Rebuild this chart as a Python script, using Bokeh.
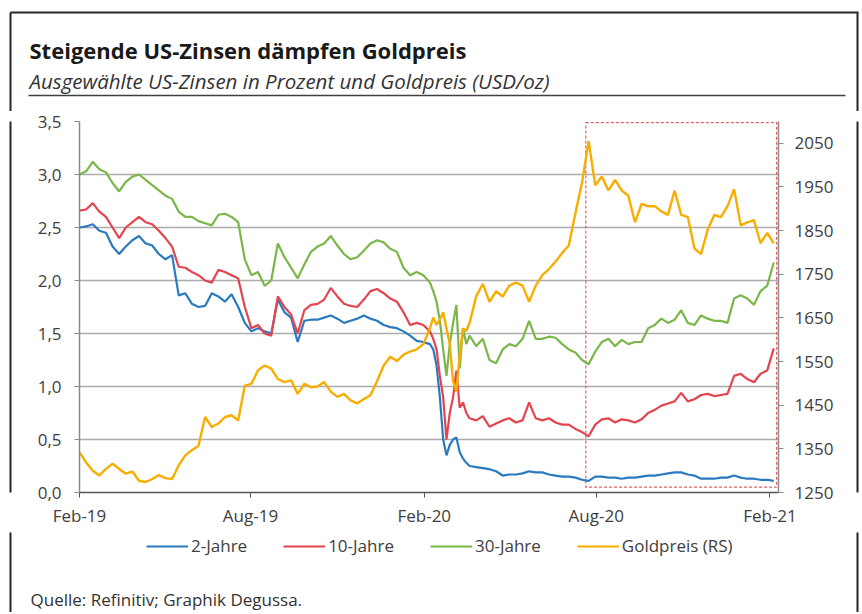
import pandas as pd
from bokeh.plotting import figure
from bokeh.layouts import column, row
from bokeh.models import (Range1d, LinearAxis, FixedTicker, DatetimeTickFormatter,
                          Legend, LegendItem)
from bokeh.core.properties import value
from bokeh.embed import file_html
from bokeh.resources import INLINE

# ---------------- data ----------------
title_text = "Steigende US-Zinsen dämpfen Goldpreis"
subtitle_text = "Ausgewählte US-Zinsen in Prozent und Goldpreis (USD/oz)"
source_text = "Quelle: Refinitiv; Graphik Degussa."

weekly = list(pd.date_range("2019-02-01", periods=106, freq="7D"))
extra = [weekly[i] + pd.Timedelta(hours=84) for i in range(53, 59)]
dates = sorted(weekly + extra)

y2 = [2.50, 2.51, 2.53, 2.47, 2.45, 2.32, 2.25, 2.32, 2.38, 2.42,
      2.35, 2.33, 2.25, 2.20, 2.24, 1.86, 1.88, 1.78, 1.75, 1.76,
      1.88, 1.85, 1.80, 1.87, 1.75, 1.60, 1.52, 1.55, 1.52, 1.50,
      1.82, 1.70, 1.65, 1.42, 1.62, 1.63, 1.63, 1.65, 1.67, 1.64,
      1.60, 1.62, 1.64, 1.67, 1.64, 1.62, 1.58, 1.56, 1.55, 1.52,
      1.48, 1.43, 1.42, 1.40,
      1.35, 1.20, 0.90, 0.50, 0.35, 0.45, 0.50, 0.52, 0.38, 0.32, 0.28,
      0.25, 0.24, 0.23, 0.22, 0.20, 0.16, 0.17, 0.17, 0.18, 0.20, 0.19,
      0.19, 0.17, 0.16, 0.15, 0.15, 0.14, 0.12, 0.11, 0.15, 0.15,
      0.14, 0.14, 0.13, 0.14, 0.14, 0.15, 0.16, 0.16, 0.17, 0.18,
      0.19, 0.19, 0.17, 0.16, 0.13, 0.13, 0.13, 0.14, 0.14, 0.16,
      0.14, 0.13, 0.13, 0.12, 0.12, 0.11]

y10 = [2.66, 2.67, 2.73, 2.65, 2.60, 2.50, 2.40, 2.50, 2.55, 2.60,
       2.55, 2.53, 2.47, 2.40, 2.32, 2.13, 2.12, 2.08, 2.05, 2.00,
       1.98, 2.10, 2.08, 2.05, 2.02, 1.75, 1.55, 1.58, 1.50, 1.48,
       1.85, 1.75, 1.68, 1.50, 1.72, 1.77, 1.78, 1.82, 1.93, 1.85,
       1.78, 1.76, 1.75, 1.82, 1.90, 1.92, 1.88, 1.83, 1.80, 1.70,
       1.58, 1.60, 1.58, 1.52,
       1.45, 1.35, 1.10, 0.90, 0.50, 0.75, 0.90, 1.15, 0.80, 0.85, 0.75,
       0.70, 0.68, 0.72, 0.62, 0.65, 0.68, 0.70, 0.66, 0.68, 0.85, 0.70,
       0.68, 0.70, 0.66, 0.64, 0.64, 0.60, 0.57, 0.53, 0.64, 0.69,
       0.70, 0.66, 0.69, 0.68, 0.66, 0.69, 0.75, 0.78, 0.82, 0.84,
       0.86, 0.94, 0.86, 0.88, 0.92, 0.93, 0.91, 0.92, 0.93, 1.10,
       1.12, 1.07, 1.04, 1.12, 1.15, 1.36]

y30 = [3.00, 3.03, 3.12, 3.05, 3.02, 2.92, 2.84, 2.93, 2.98, 3.00,
       2.95, 2.90, 2.85, 2.80, 2.77, 2.65, 2.60, 2.60, 2.56, 2.54,
       2.52, 2.62, 2.63, 2.60, 2.55, 2.20, 2.05, 2.08, 1.95, 2.00,
       2.35, 2.22, 2.12, 2.02, 2.15, 2.27, 2.32, 2.35, 2.42, 2.33,
       2.25, 2.20, 2.22, 2.28, 2.35, 2.38, 2.36, 2.30, 2.27, 2.12,
       2.05, 2.08, 2.05, 1.98,
       1.90, 1.80, 1.62, 1.35, 1.10, 1.40, 1.60, 1.77, 1.17, 1.55, 1.40,
       1.48, 1.38, 1.45, 1.25, 1.22, 1.35, 1.40, 1.38, 1.45, 1.62, 1.45,
       1.45, 1.47, 1.46, 1.40, 1.35, 1.32, 1.25, 1.21, 1.33, 1.42,
       1.45, 1.38, 1.44, 1.40, 1.42, 1.42, 1.55, 1.58, 1.64, 1.60,
       1.63, 1.72, 1.60, 1.58, 1.67, 1.64, 1.62, 1.62, 1.60, 1.83,
       1.86, 1.83, 1.77, 1.90, 1.95, 2.17]

gold = [1342, 1319, 1300, 1289, 1304, 1316, 1304, 1293, 1298, 1277,
        1274, 1281, 1290, 1283, 1281, 1312, 1335, 1347, 1357, 1423,
        1400, 1408, 1423, 1427, 1415, 1495, 1499, 1530, 1541, 1534,
        1510, 1503, 1507, 1476, 1499, 1491, 1493, 1503, 1481, 1469,
        1476, 1461, 1454, 1464, 1473, 1505, 1541, 1561, 1551, 1566,
        1573, 1578, 1590, 1626,
        1651, 1634, 1646, 1663, 1626, 1590, 1505, 1481, 1566, 1626, 1620,
        1639, 1700, 1728, 1687, 1711, 1699, 1724, 1731, 1724, 1687, 1724,
        1748, 1762, 1779, 1799, 1816, 1890, 1960, 2055, 1954, 1974,
        1942, 1966, 1942, 1930, 1869, 1911, 1906, 1906, 1894, 1886,
        1942, 1886, 1881, 1809, 1796, 1852, 1886, 1881, 1906, 1945,
        1862, 1869, 1874, 1821, 1845, 1821]

series_names = ["2-Jahre", "10-Jahre", "30-Jahre", "Goldpreis (RS)"]
series_colors = ["#2a7abf", "#e4444e", "#7ab648", "#f8ae00"]

left_ticks = [0.0, 0.5, 1.0, 1.5, 2.0, 2.5, 3.0, 3.5]
left_tick_labels = ["0,0", "0,5", "1,0", "1,5", "2,0", "2,5", "3,0", "3,5"]
right_ticks = [1250, 1350, 1450, 1550, 1650, 1750, 1850, 1950, 2050]
x_tick_dates = ["2019-02-01", "2019-08-01", "2020-02-01", "2020-08-01", "2021-02-01"]

x_start, x_end = "2019-02-01", "2021-02-10"
hl_start, hl_end = "2020-07-21", "2021-02-08"
hl_bottom, hl_top = 0.05, 3.49

FONT = "Open Sans"
TXT = "#404040"
FRAME = "#262626"

W = 860
HEAD_H, MAIN_H, FOOT_H = 111, 421, 80
STRIP_L, STRIP_R = 12, 14


def blank(width, height, xr, yr):
    f = figure(width=width, height=height, x_range=Range1d(*xr), y_range=Range1d(*yr),
               output_backend="svg", toolbar_location=None, min_border=0,
               x_axis_location=None, y_axis_location=None)
    f.grid.visible = False
    f.outline_line_color = None
    f.background_fill_color = "white"
    f.border_fill_color = "white"
    return f


# ---------------- header ----------------
head = blank(W, HEAD_H, (0, W), (HEAD_H, 0))
head.segment(x0=[10, 10, 857], y0=[12, 12, 12], x1=[858, 10, 857], y1=[12, HEAD_H + 5, HEAD_H + 5],
             line_color=FRAME, line_width=2)
head.text(x=[29], y=[49], text=[title_text], text_font=value(FONT), text_font_size="22px",
          text_font_style="bold", text_color="#1a1a1a", text_baseline="alphabetic")
head.text(x=[29], y=[80], text=[subtitle_text], text_font=value(FONT), text_font_size="20.5px",
          text_font_style="italic", text_color="#333333", text_baseline="alphabetic")
head.segment(x0=[28], y0=[95], x1=[845], y1=[95], line_color="#404040", line_width=1.5)

# ---------------- main chart ----------------
p = figure(width=W - STRIP_L - STRIP_R, height=MAIN_H, x_axis_type="datetime",
           output_backend="svg", toolbar_location=None,
           x_range=Range1d(pd.Timestamp(x_start), pd.Timestamp(x_end)),
           y_range=Range1d(0, 3.5),
           min_border_left=67, min_border_right=68, min_border_top=10,
           min_border_bottom=40)
p.extra_y_ranges = {"gold": Range1d(1250, 2100)}
p.outline_line_color = None
p.background_fill_color = "white"
p.border_fill_color = "white"

p.xgrid.visible = False
p.ygrid.grid_line_color = "#ababab"
p.ygrid.grid_line_width = 1.5

ya = p.yaxis[0]
ya.ticker = FixedTicker(ticks=left_ticks)
ya.major_label_overrides = {t: l for t, l in zip(left_ticks, left_tick_labels)}
ra = LinearAxis(y_range_name="gold", ticker=FixedTicker(ticks=right_ticks))
p.add_layout(ra, "right")
for ax, standoff in ((ya, 13), (ra, 11)):
    ax.axis_line_color = "#8a8a8a"
    ax.axis_line_width = 1.5
    ax.major_tick_line_color = "#8a8a8a"
    ax.major_tick_in = 0
    ax.major_tick_out = 5
    ax.minor_tick_line_color = None
    ax.major_label_standoff = standoff
    ax.major_label_text_font = FONT
    ax.major_label_text_font_size = "17px"
    ax.major_label_text_color = TXT

xa = p.xaxis[0]
xa.ticker = FixedTicker(ticks=[pd.Timestamp(d).value / 1e6 for d in x_tick_dates])
fmt = "%b-%y"
xa.formatter = DatetimeTickFormatter(days=fmt, months=fmt, years=fmt, hours=fmt)
xa.axis_line_color = "#555555"
xa.axis_line_width = 1.5
xa.major_tick_line_color = "#555555"
xa.major_tick_in = 0
xa.major_tick_out = 5
xa.minor_tick_line_color = None
xa.major_label_standoff = 6
xa.major_label_text_font = FONT
xa.major_label_text_font_size = "17px"
xa.major_label_text_color = TXT

p.quad(left=[pd.Timestamp(hl_start)], right=[pd.Timestamp(hl_end)],
       bottom=[hl_bottom], top=[hl_top], fill_alpha=0,
       line_color="#e06060", line_dash="3 2", line_width=1.2)

for ys, col in zip([y2, y10, y30], series_colors[:3]):
    p.line(dates, ys, line_color=col, line_width=2.2)
p.line(dates, gold, line_color=series_colors[3], line_width=2.4, y_range_name="gold")

left_strip = blank(STRIP_L, MAIN_H, (0, STRIP_L), (0, MAIN_H))
left_strip.segment(x0=[10], y0=[-5], x1=[10], y1=[MAIN_H + 5], line_color=FRAME, line_width=2)
right_strip = blank(STRIP_R, MAIN_H, (0, STRIP_R), (0, MAIN_H))
right_strip.segment(x0=[11], y0=[-5], x1=[11], y1=[MAIN_H + 5], line_color=FRAME, line_width=2)

# ---------------- footer: legend + source ----------------
foot = blank(W, FOOT_H, (0, W), (FOOT_H, 0))
foot.segment(x0=[10, 857], y0=[-5, -5], x1=[10, 857], y1=[FOOT_H + 5, FOOT_H + 5],
             line_color=FRAME, line_width=2)
items = []
for name, col in zip(series_names, series_colors):
    # legend swatches only: drawn outside the visible range
    r = foot.line(x=[-50, -40], y=[-50, -50], line_color=col, line_width=2.2)
    items.append(LegendItem(label=name, renderers=[r]))
legend = Legend(items=items, orientation="horizontal", location=(146, 55),
                border_line_color=None, background_fill_alpha=0,
                label_text_font=FONT, label_text_font_size="17px",
                label_text_color=TXT, glyph_width=42, glyph_height=18, label_height=18,
                label_standoff=3, spacing=36, padding=0, margin=0)
foot.add_layout(legend, "center")
foot.text(x=[30], y=[67], text=[source_text], text_font=value(FONT), text_font_size="17px",
          text_color="#333333", text_baseline="alphabetic")

layout = column(head, row(left_strip, p, right_strip), foot)
open("out.html", "w").write(file_html(layout, INLINE))
